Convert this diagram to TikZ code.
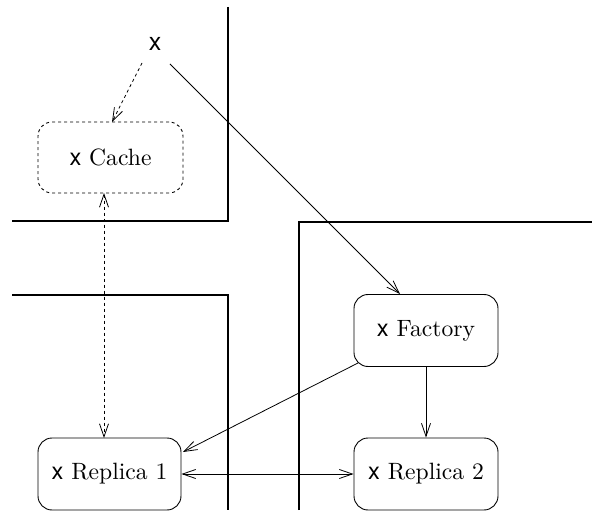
\documentclass[tikz,border=0pt]{standalone}
\usepackage{fontspec}
\newfontfamily\hv{TeX Gyre Heros}
\newfontfamily\cmr{lmroman10-regular.otf}
\usetikzlibrary{arrows.meta}
\begin{document}
\begin{tikzpicture}[x=1pt,y=-1pt,
  box/.style={draw,rounded corners=14pt,minimum width=144pt,minimum height=72pt,line width=0.9pt,inner sep=0pt,font=\cmr\fontsize{23.6}{27}\selectfont},
  wall/.style={line width=2.6pt},
  conn/.style={line width=0.8pt},
  tip/.style={-{Straight Barb[length=13pt,width=9pt,line width=0.8pt]}},
  dots/.style={dash pattern=on 3pt off 3pt}
]
\useasboundingbox (0,0) rectangle (592,513);
\draw[wall] (228,7) -- (228,221) -- (12,221);
\draw[wall] (12,295) -- (228,295) -- (228,510);
\draw[wall] (299,510) -- (299,222) -- (592,222);
\node[font=\hv\fontsize{25}{28}\selectfont] (x) at (155,44) {x};
\node[box,dots,minimum width=145pt,minimum height=71pt] (cache) at (110.5,157.5) {{\hv x} Cache};
\node[box] (fact) at (426,330.5) {{\hv x} Factory};
\node[box,minimum width=143pt] (r1) at (109.5,474) {{\hv x} Replica 1};
\node[box] (r2) at (426,474) {{\hv x} Replica 2};
\draw[conn,dots,tip] (142,63) -- (112,122);
\draw[conn,tip] (170,64) -- (400,294);
\draw[conn,dots,{Straight Barb[length=13pt,width=9pt,line width=0.8pt]}-{Straight Barb[length=13pt,width=9pt,line width=0.8pt]}] (104,193) -- (104,438);
\draw[conn,tip] (fact.south) -- (r2.north);
\draw[conn,tip] (358,363) -- (183,452);
\draw[conn,{Straight Barb[length=13pt,width=9pt,line width=0.8pt]}-{Straight Barb[length=13pt,width=9pt,line width=0.8pt]}] (r1.east) -- (r2.west);
\end{tikzpicture}
\end{document}
